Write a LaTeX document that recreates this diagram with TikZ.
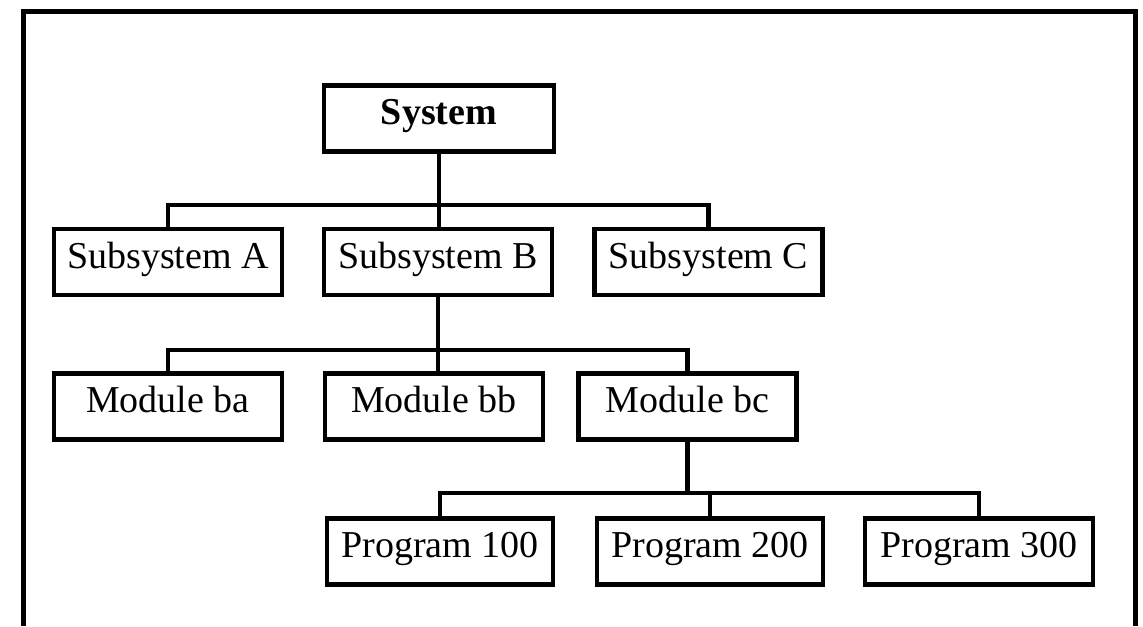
\documentclass[tikz,border=0pt]{standalone}
\usepackage{fontspec}
\setmainfont{Liberation Serif}
\usetikzlibrary{positioning}

\begin{document}
\begin{tikzpicture}[x=0.5pt,y=-0.5pt,
  unit/.style={draw, line width=2.4pt, minimum width=114pt, minimum height=33pt,
    inner sep=0pt, text height=13pt, text depth=7pt,
    font=\fontsize{19}{22}\selectfont},
  link/.style={line width=2.1pt}]
\useasboundingbox (0,0) rectangle (1143,626);
\draw[line width=2.5pt] (23.5,626) -- (23.5,12) -- (1135.5,12) -- (1135.5,626);

% levels of the chart
\node[unit, minimum width=115pt, font=\fontsize{19}{22}\selectfont\bfseries] (sys) at (439,118.5) {System};

\node[unit] (subA) at (168,262) {Subsystem A};
\node[unit] (subB) at (438,262) {Subsystem B};
\node[unit] (subC) at (708.5,262) {Subsystem C};

\node[unit] (modBA) at (168,406.5) {Module ba};
\node[unit, minimum width=109pt] (modBB) at (434,406.5) {Module bb};
\node[unit, minimum width=109pt] (modBC) at (687.5,406.5) {Module bc};

\node[unit, minimum width=113pt] (prog1) at (440,551.5) {Program 100};
\node[unit, minimum width=113pt] (prog2) at (710,551.5) {Program 200};
\node[unit] (prog3) at (979,551.5) {Program 300};

\coordinate (sbar) at (0,205);
\coordinate (mbar) at (0,350);
\coordinate (pbar) at (0,493);

\draw[link] (sys.south) -- (sys.south |- subB.north);
\draw[link] (subA.north) -- (subA.north |- sbar) -| (subC.north);

\draw[link] (subB.south) -- (subB.south |- modBB.north);
\draw[link] (modBA.north) -- (modBA.north |- mbar) -| (modBC.north);

\draw[link] (modBC.south) -- (modBC.south |- pbar);
\draw[link] (prog1.north) -- (prog1.north |- pbar) -| (prog3.north);
\draw[link] (prog2.north) -- (prog2.north |- pbar);
\end{tikzpicture}
\end{document}
